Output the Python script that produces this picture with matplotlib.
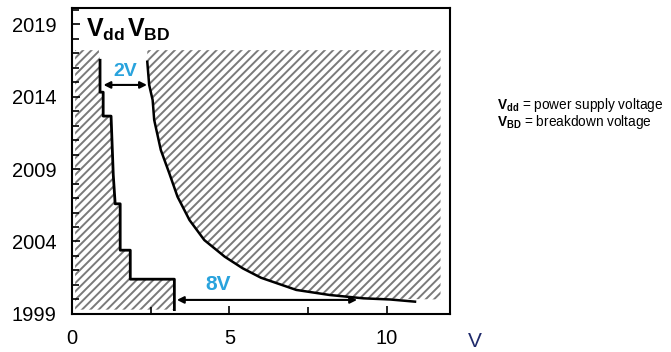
import matplotlib
matplotlib.use("Agg")
from matplotlib import pyplot as plt

# Vdd staircase (volts, year)
vdd_v = [3.25, 3.25, 1.85, 1.85, 1.53, 1.53, 1.37, 1.31, 1.24, 1.24, 0.99, 0.99, 0.89, 0.89]
vdd_y = [1999.3, 2001.4, 2001.4, 2003.4, 2003.4, 2006.6, 2006.6, 2008.6, 2012.65, 2012.65,
         2012.65, 2014.3, 2014.3, 2016.5]

# breakdown voltage curve
bd_v = [2.39, 2.45, 2.56, 2.61, 2.82, 3.09, 3.35, 3.73, 4.2, 4.85, 5.42, 6.0,
        7.12, 8.18, 9.25, 10.1, 10.89]
bd_y = [2016.4, 2014.8, 2013.76, 2012.38, 2010.31, 2008.7, 2007.09, 2005.48, 2004.1,
        2002.95, 2002.15, 2001.5, 2000.66, 2000.31, 2000.08, 2000.0, 1999.85]

hatch_top = 2017.2
blue = "#29a3dd"

plt.rcParams["font.family"] = ["Liberation Sans", "DejaVu Sans"]
plt.rcParams["mathtext.fontset"] = "custom"
plt.rcParams["mathtext.rm"] = "Liberation Sans"
plt.rcParams["mathtext.bf"] = "Liberation Sans:bold"
plt.rcParams["hatch.linewidth"] = 1.4

fig = plt.figure(figsize=(6.71, 3.52), dpi=100)
ax = fig.add_axes([0.1073, 0.108, 0.5633, 0.869])

# hatched "forbidden" regions
left_x = [0.1] + vdd_v + [0.85, 0.1]
left_y = [1999.3] + vdd_y + [hatch_top, hatch_top]
ax.fill(left_x, left_y, facecolor="none", edgecolor="#7a7a7a", hatch="////", linewidth=0)

right_x = [bd_v[0]] + bd_v[:15] + [11.7, 11.7]
right_y = [hatch_top] + bd_y[:15] + [2000.0, hatch_top]
ax.fill(right_x, right_y, facecolor="none", edgecolor="#7a7a7a", hatch="////", linewidth=0)

ax.plot(vdd_v, vdd_y, color="black", lw=2)
ax.plot(bd_v, bd_y, color="black", lw=1.8)

arrow = dict(arrowstyle="<|-|>", color="black", lw=1.5, mutation_scale=10, shrinkA=0, shrinkB=0)
ax.annotate("", xy=(2.38, 2014.8), xytext=(1.0, 2014.8), arrowprops=arrow)
ax.annotate("", xy=(9.05, 1999.97), xytext=(3.33, 1999.97), arrowprops=arrow)
ax.text(1.68, 2015.75, "2V", color=blue, fontsize=14, fontweight="bold", ha="center", va="center")
ax.text(4.64, 2001.0, "8V", color=blue, fontsize=15, fontweight="bold", ha="center", va="center")

ax.text(0.45, 2018.1, r"$\mathbf{V}_{\mathbf{dd}}$", fontsize=18, va="baseline")
ax.text(1.75, 2018.1, r"$\mathbf{V}_{\mathbf{BD}}$", fontsize=18, va="baseline")

ax.set_xlim(0, 12)
ax.set_ylim(1999, 2020.1)
ax.set_xticks([0, 5, 10])
ax.set_xticks([2.5, 7.5], minor=True)
ax.set_yticks([1999, 2004, 2009, 2014, 2019])
ax.set_yticks(range(1999, 2021), minor=True)
ax.tick_params(which="both", direction="in", width=1.2, labelsize=14.5, pad=11)
ax.tick_params(which="major", length=6)
ax.tick_params(which="minor", length=5)
ax.tick_params(axis="x", pad=11)
for s in ax.spines.values():
    s.set_linewidth(1.5)

fig.text(0.708, 0.03, "V", fontsize=15, color="#1f2a6b", ha="center", va="center")
fig.text(0.741, 0.702, r"$\mathbf{V}_{\mathbf{dd}}$ = power supply voltage", fontsize=9.8, va="center")
fig.text(0.741, 0.652, r"$\mathbf{V}_{\mathbf{BD}}$ = breakdown voltage", fontsize=9.8, va="center")

fig.savefig("out.png", dpi=100)
